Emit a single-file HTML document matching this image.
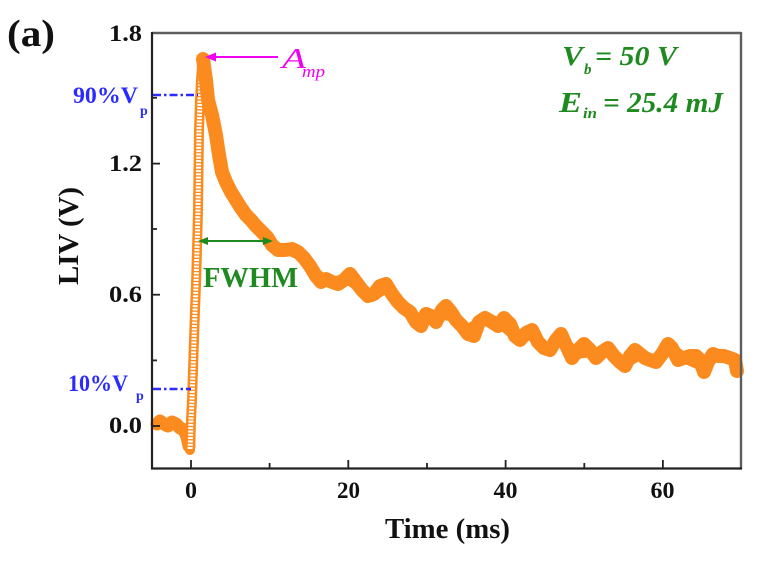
<!DOCTYPE html>
<html>
<head>
<meta charset="utf-8">
<style>
  html,body{margin:0;padding:0;background:#fff;}
  svg{display:block;}
  text{font-family:"Liberation Serif","DejaVu Serif",serif;}
</style>
</head>
<body>
<svg width="760" height="578" viewBox="0 0 760 578" xmlns="http://www.w3.org/2000/svg">
  <rect x="0" y="0" width="760" height="578" fill="#fff"/>

  <!-- data: pre-trigger band -->
  <polyline fill="none" stroke="#fb8b1e" stroke-width="13" stroke-linejoin="round" stroke-linecap="round"
    points="157,424 160,421 164,424 168,426 172,422 176,424 180,428 184,430 187,437 189,446"/>

  <!-- rising column (hollow circles) -->
  <polyline fill="none" stroke="#fb8b1e" stroke-width="10" stroke-linejoin="round" stroke-linecap="round"
    points="190,450 190.5,440 191,420 192,400 193,370 194,340 195,310 196,285 197,250 198,210 198.5,170 199,130 200,100 201,80 202,66 203,59"/>
  <polyline fill="none" stroke="#fff" stroke-width="5" stroke-dasharray="2 1.3"
    points="190,449 190.5,440 191,420 192,400 193,370 194,340 195,310 196,285 197,250 198,210 198.5,170 199,130 200,100 201,80 202,68"/>

  <!-- decay band -->
  <polyline fill="none" stroke="#fb8b1e" stroke-width="14" stroke-linejoin="round" stroke-linecap="round"
    points="203,59 206,80 208,100 212,115 216,135 219,155 222,172 226,182 231,192 236,200 241,208 246,215 251,220 256,226 262,232 267,237 272,245 278,250 285,250 292,249 298,252 304,258 310,266 316,276 321,282 326,279 332,282 338,284 344,280 350,274 356,282 362,290 368,296 374,294 380,286 386,284 392,294 398,302 404,308 410,312 416,322 421,326 426,314 431,316 436,322 442,310 446,306 451,312 456,320 462,326 468,334 474,336 479,322 485,318 492,322 498,326 504,318 510,324 515,336 520,340 526,333 532,330 538,342 544,348 550,350 556,340 561,334 566,345 572,358 578,350 584,344 590,350 596,358 602,352 608,348 614,356 620,362 625,366 630,356 635,350 640,354 645,358 650,360 656,362 662,354 668,344 672,348 678,360 684,358 690,356 696,356 700,360 704,372 708,362 713,354 718,356 724,356 730,358 735,360 737,371"/>
  <polyline fill="none" stroke="#fb8b1e" stroke-width="10" stroke-linejoin="round" stroke-linecap="round"
    points="210,108 218,146 224,178 234,196 244,212 254,224 266,236 276,250 290,251 302,256 314,272 330,283 346,278 360,288 372,297 388,287 400,305 414,318 424,317 440,315 452,316 466,331 482,320 500,323 518,339 534,334 548,351 562,338 576,354 592,352 610,352 624,364 640,355 656,360 670,347 686,359 702,366 716,356 732,360"/>
  <circle cx="203" cy="60" r="5" fill="none" stroke="#fb8b1e" stroke-width="2"/>

  <!-- frame -->
  <line x1="152" y1="33" x2="741" y2="33" stroke="#5e5e5e" stroke-width="2.4"/>
  <line x1="741" y1="32" x2="741" y2="469" stroke="#5e5e5e" stroke-width="2.4"/>
  <line x1="152" y1="32" x2="152" y2="469.5" stroke="#222" stroke-width="2.2"/>
  <line x1="151" y1="468.5" x2="742" y2="468.5" stroke="#222" stroke-width="2.2"/>

  <!-- y ticks -->
  <g stroke="#222" stroke-width="1.8">
    <line x1="152" y1="163.6" x2="160" y2="163.6"/>
    <line x1="152" y1="294.7" x2="160" y2="294.7"/>
    <line x1="152" y1="426" x2="160" y2="426"/>
    <line x1="152" y1="97.8" x2="157" y2="97.8"/>
    <line x1="152" y1="229" x2="157" y2="229"/>
    <line x1="152" y1="360.4" x2="157" y2="360.4"/>
    <!-- x ticks -->
    <line x1="191" y1="468" x2="191" y2="460"/>
    <line x1="348.3" y1="468" x2="348.3" y2="460"/>
    <line x1="505.6" y1="468" x2="505.6" y2="460"/>
    <line x1="662.9" y1="468" x2="662.9" y2="460"/>
    <line x1="269.6" y1="468" x2="269.6" y2="463"/>
    <line x1="427" y1="468" x2="427" y2="463"/>
    <line x1="584.3" y1="468" x2="584.3" y2="463"/>
  </g>

  <!-- tick labels -->
  <g font-weight="bold" font-size="23" fill="#111">
    <text x="109" y="41" textLength="33" lengthAdjust="spacingAndGlyphs">1.8</text>
    <text x="109" y="171" textLength="33" lengthAdjust="spacingAndGlyphs">1.2</text>
    <text x="109" y="302" textLength="33" lengthAdjust="spacingAndGlyphs">0.6</text>
    <text x="109" y="433" textLength="33" lengthAdjust="spacingAndGlyphs">0.0</text>
    <text x="185" y="498" textLength="12" lengthAdjust="spacingAndGlyphs">0</text>
    <text x="337" y="498" textLength="23" lengthAdjust="spacingAndGlyphs">20</text>
    <text x="493.5" y="498" textLength="24" lengthAdjust="spacingAndGlyphs">40</text>
    <text x="650.5" y="498" textLength="24" lengthAdjust="spacingAndGlyphs">60</text>
  </g>

  <!-- axis titles -->
  <text x="385" y="538" font-weight="bold" font-size="28" fill="#111" textLength="125" lengthAdjust="spacingAndGlyphs">Time (ms)</text>
  <text transform="translate(78,236) rotate(-90)" x="0" y="0" text-anchor="middle" font-weight="bold" font-size="28" fill="#111" textLength="98" lengthAdjust="spacingAndGlyphs">LIV (V)</text>

  <!-- panel label -->
  <text x="7" y="46" font-weight="bold" font-size="38" fill="#111" textLength="48" lengthAdjust="spacingAndGlyphs">(a)</text>

  <!-- 90% / 10% annotations -->
  <line x1="153" y1="95" x2="198" y2="95" stroke="#2b2bff" stroke-width="2.4" stroke-dasharray="8 3 2.5 3"/>
  <line x1="153" y1="389" x2="191" y2="389" stroke="#2b2bff" stroke-width="2.4" stroke-dasharray="8 3 2.5 3"/>
  <g font-weight="bold" fill="#2b2bff">
    <text x="73" y="103" font-size="23" textLength="65" lengthAdjust="spacingAndGlyphs">90%V</text>
    <text x="140" y="115" font-size="14">p</text>
    <text x="68" y="391" font-size="23" textLength="60" lengthAdjust="spacingAndGlyphs">10%V</text>
    <text x="136" y="400" font-size="14">p</text>
  </g>

  <!-- A_mp arrow -->
  <line x1="214" y1="57" x2="278" y2="57" stroke="#f000f0" stroke-width="2"/>
  <polygon points="205,57 216,52.5 216,61.5" fill="#f000f0"/>
  <text x="282" y="68" font-style="italic" font-size="28" fill="#f000f0" textLength="24" lengthAdjust="spacingAndGlyphs">A</text>
  <text x="302" y="77" font-style="italic" font-size="17" fill="#f000f0" textLength="23" lengthAdjust="spacingAndGlyphs">mp</text>

  <!-- FWHM arrow -->
  <line x1="205" y1="241" x2="266" y2="241" stroke="#1f8a1f" stroke-width="2"/>
  <polygon points="198,241 208,237 208,245" fill="#1f8a1f"/>
  <polygon points="273,241 263,237 263,245" fill="#1f8a1f"/>
  <text x="203" y="287" font-weight="bold" font-size="28" fill="#1f8a1f" textLength="95" lengthAdjust="spacingAndGlyphs">FWHM</text>

  <!-- conditions text -->
  <g font-weight="bold" font-style="italic" fill="#1f8a1f">
    <text x="562" y="65" font-size="27" textLength="21" lengthAdjust="spacingAndGlyphs">V</text>
    <text x="584" y="74" font-size="15">b</text>
    <text x="595" y="65" font-size="27" textLength="82" lengthAdjust="spacingAndGlyphs">= 50 V</text>
    <text x="559" y="112" font-size="28" textLength="23" lengthAdjust="spacingAndGlyphs">E</text>
    <text x="583" y="118" font-size="15" textLength="14" lengthAdjust="spacingAndGlyphs">in</text>
    <text x="603" y="112" font-size="28" textLength="120" lengthAdjust="spacingAndGlyphs">= 25.4 mJ</text>
  </g>
</svg>
</body>
</html>
